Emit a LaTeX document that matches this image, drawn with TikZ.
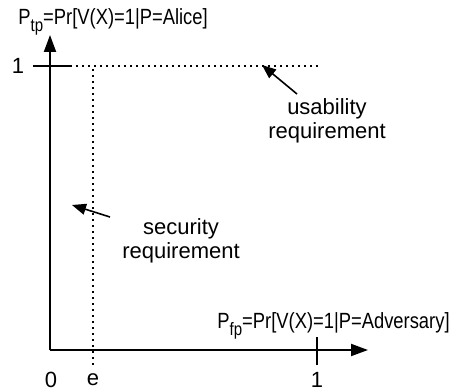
\documentclass[tikz,border=0pt]{standalone}
\usepackage{fontspec}
\usepackage{graphicx}
\setmainfont{Liberation Sans}
\usetikzlibrary{arrows.meta}
\newcommand{\subidx}[1]{\raisebox{-3.5pt}{\fontsize{9}{9}\selectfont #1}}
\begin{document}
\begin{tikzpicture}[
x=0.5pt, y=-0.5pt,
axis/.style={-{Triangle[length=8.5pt,width=6pt]}, line width=1pt},
tick/.style={line width=1pt},
guide/.style={line width=1pt, dash pattern=on 1pt off 2pt},
pointer/.style={-{Triangle[length=7pt,width=5.5pt]}, line width=0.8pt},
label/.style={font=\fontsize{11}{12}\selectfont, inner sep=0pt},
note/.style={label, align=center},
]
\useasboundingbox (0,0) rectangle (450,390);
%coordinates
\coordinate (o) at (50,350);
\coordinate (ytop) at (50,35);
\coordinate (xend) at (368,350);
\coordinate (y1a) at (33,66);
\coordinate (y1b) at (72,66);
\coordinate (x1a) at (317,337);
\coordinate (x1b) at (317,365);
\coordinate (h1) at (76,66);
\coordinate (h2) at (320,66);
\coordinate (v1) at (93,69);
\coordinate (v2) at (93,368);
\coordinate (ut) at (297,94);
\coordinate (uh) at (262,65);
\coordinate (st) at (110,217);
\coordinate (sh) at (72,205);
%nodes
\node[label, anchor=base west] (ptp) at (18,25) {\scalebox{0.835}[1]{P\subidx{tp}=Pr[V(X)=1|P=Alice]}};
\node[label, anchor=base west] (pfp) at (217,328) {\scalebox{0.835}[1]{P\subidx{fp}=Pr[V(X)=1|P=Adversary]}};
\node[label] (one) at (18,66) {1};
\node[label] (zero) at (51,380) {0};
\node[label] (e) at (93,380) {e};
\node[label] (onex) at (317,380) {1};
\node[note] (usab) at (327,121) {usability\\requirement};
\node[note] (secu) at (181,241) {security\\requirement};
%axes
\draw[axis] (o) -- (ytop);
\draw[axis] (o) -- (xend);
\draw[tick] (y1a) -- (y1b);
\draw[tick] (x1a) -- (x1b);
\draw[guide] (h1) -- (h2);
\draw[guide] (v1) -- (v2);
%connections
\draw[pointer] (ut) -- (uh);
\draw[pointer] (st) -- (sh);
\end{tikzpicture}
\end{document}
